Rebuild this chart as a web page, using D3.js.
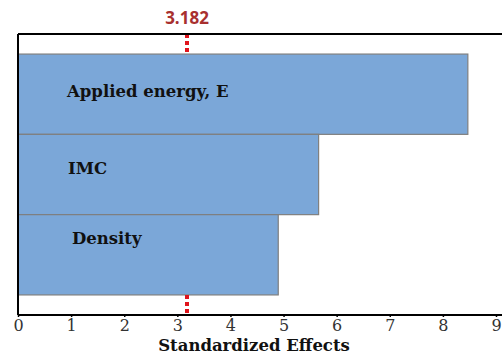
<!DOCTYPE html>
<html>
<head>
<meta charset="utf-8">
<script src="https://cdn.jsdelivr.net/npm/d3@7"></script>
<style>
  body { margin: 0; background: #fff; }
  svg { display: block; }
</style>
</head>
<body>
<svg id="chart" width="502" height="354"></svg>
<script>
// 数据
const factors = ["Applied energy, E", "IMC", "Density"];
const effects = [8.47, 5.66, 4.9];
const xTicks = [0, 1, 2, 3, 4, 5, 6, 7, 8, 9];
const critical = 3.182;

const width = 502, height = 354;
const margin = { top: 34, right: 0, bottom: 39, left: 18 };
const svg = d3.select("#chart");

const x = d3.scaleLinear([0, 9], [margin.left, 496]);
const y = d3.scaleBand(factors, [margin.top, height - margin.bottom])
  .paddingInner(0)
  .paddingOuter(0.25);

const serif = "'DejaVu Serif', 'Liberation Serif', serif";
// label placement inside each bar (px offsets)
const labelX = [67, 68, 72];
const labelDy = [-2, -5, -15];

// bars
svg.append("g")
  .attr("class", "bars")
  .selectAll("rect")
  .data(factors)
  .join("rect")
  .attr("x", x(0))
  .attr("y", (d) => y(d))
  .attr("width", (d, i) => x(effects[i]) - x(0))
  .attr("height", y.bandwidth())
  .attr("fill", "#7ba7d8")
  .attr("stroke", "#7f7f7f")
  .attr("stroke-width", 1.2);

// bar labels
svg.append("g")
  .attr("class", "labels")
  .selectAll("text")
  .data(factors)
  .join("text")
  .attr("x", (d, i) => labelX[i])
  .attr("y", (d, i) => y(d) + y.bandwidth() / 2 + labelDy[i])
  .attr("dominant-baseline", "middle")
  .attr("font-family", serif)
  .attr("font-weight", "bold")
  .attr("font-size", 16.5)
  .attr("fill", "#111")
  .text((d) => d);

// critical line (only visible in the gaps above and below bars)
const yTop = margin.top, yBot = height - margin.bottom;
[[yTop, y(factors[0])], [y(factors[2]) + y.bandwidth(), yBot]].forEach(([a, b]) => {
  svg.append("line")
    .attr("x1", x(critical)).attr("x2", x(critical))
    .attr("y1", a).attr("y2", b)
    .attr("stroke", "#e0141c")
    .attr("stroke-width", 4)
    .attr("stroke-dasharray", "4,3");
});
svg.append("text")
  .attr("x", x(critical))
  .attr("y", 24)
  .attr("text-anchor", "middle")
  .attr("font-family", "'Open Sans', 'Noto Sans', sans-serif")
  .attr("font-weight", "bold")
  .attr("font-size", 17)
  .attr("fill", "#a8302f")
  .text(critical);

// frame lines
svg.append("line")
  .attr("x1", margin.left).attr("x2", width)
  .attr("y1", yTop).attr("y2", yTop)
  .attr("stroke", "#000").attr("stroke-width", 2);
svg.append("line")
  .attr("x1", margin.left).attr("x2", margin.left)
  .attr("y1", yTop).attr("y2", yBot)
  .attr("stroke", "#000").attr("stroke-width", 2);

// x axis
const xAxis = svg.append("g")
  .attr("transform", `translate(0, ${yBot})`)
  .call(d3.axisBottom(x).tickValues(xTicks).tickSize(2).tickPadding(3).tickFormat(d3.format("d")));
xAxis.select(".domain").remove();
xAxis.append("line")
  .attr("x1", margin.left).attr("x2", width)
  .attr("stroke", "#000").attr("stroke-width", 2);
xAxis.selectAll(".tick line").attr("stroke", "#000").attr("stroke-width", 1.5);
xAxis.selectAll(".tick text")
  .attr("font-family", serif)
  .attr("font-size", 16)
  .attr("fill", "#333");

svg.append("text")
  .attr("x", 254)
  .attr("y", 351)
  .attr("text-anchor", "middle")
  .attr("font-family", serif)
  .attr("font-weight", "bold")
  .attr("font-size", 16.5)
  .attr("fill", "#111")
  .text("Standardized Effects");
</script>
</body>
</html>
